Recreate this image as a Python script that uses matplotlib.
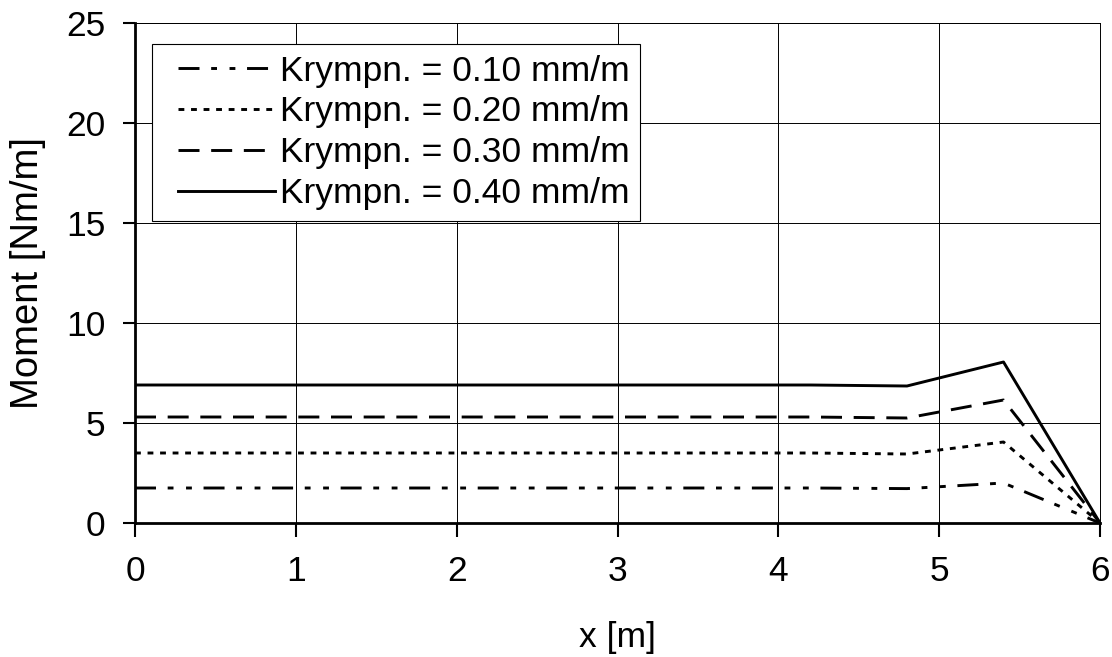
import matplotlib.pyplot as plt
from matplotlib.lines import Line2D
from matplotlib.legend_handler import HandlerLine2D

plt.rcParams['font.family'] = ['Liberation Sans', 'DejaVu Sans']

x = [0, 0.6, 1.2, 1.8, 2.4, 3.0, 3.6, 4.2, 4.8, 5.4, 6.0]
m010 = [1.75, 1.75, 1.75, 1.75, 1.75, 1.75, 1.75, 1.75, 1.72, 2.0, 0]
m020 = [3.5, 3.5, 3.5, 3.5, 3.5, 3.5, 3.5, 3.5, 3.45, 4.05, 0]
m030 = [5.3, 5.3, 5.3, 5.3, 5.3, 5.3, 5.3, 5.3, 5.25, 6.15, 0]
m040 = [6.9, 6.9, 6.9, 6.9, 6.9, 6.9, 6.9, 6.9, 6.85, 8.05, 0]
labels = ['Krympn. = 0.10 mm/m', 'Krympn. = 0.20 mm/m',
          'Krympn. = 0.30 mm/m', 'Krympn. = 0.40 mm/m']

fs = 25.5
fig = plt.figure(figsize=(11.12, 6.57), dpi=100)
ax = fig.add_axes([135/1112, 1 - 523/657, 965/1112, 500/657])

lw = 2.1
ax.plot(x, m010, color='black', lw=lw, dashes=(7.2, 4, 2, 4.3, 2, 4), label=labels[0])
ax.plot(x, m020, color='black', lw=lw, dashes=(2, 2.3), label=labels[1])
ax.plot(x, m030, color='black', lw=lw, dashes=(7.2, 4), label=labels[2])
ax.plot(x, m040, color='black', lw=lw, label=labels[3])

ax.set_xlim(0, 6)
ax.set_ylim(0, 25)
ax.set_xticks(range(0, 7))
ax.set_yticks(range(0, 26, 5))
ax.grid(color='black', linewidth=0.7)
ax.tick_params(direction='out', width=1.5, labelsize=fs)
ax.tick_params(axis='x', length=10, pad=13)
ax.tick_params(axis='y', length=9, pad=12.5)
for s in ['left', 'bottom']:
    ax.spines[s].set_linewidth(2)
for s in ['top', 'right']:
    ax.spines[s].set_linewidth(0.7)

ax.set_xlabel('x [m]', fontsize=fs, labelpad=24)
ax.set_ylabel('Moment [Nm/m]', fontsize=27.5, labelpad=14)

leg = ax.legend(loc='upper left', bbox_to_anchor=(17/965, 479/500), fontsize=fs,
                frameon=True, fancybox=False, edgecolor='black', framealpha=1,
                handlelength=3.16, handletextpad=0.15, labelspacing=0.22,
                borderpad=0.3, borderaxespad=0,
                handler_map={Line2D: HandlerLine2D(xpad=0.42)})
leg.get_frame().set_linewidth(0.8)

fig.savefig('out.png', dpi=100)
